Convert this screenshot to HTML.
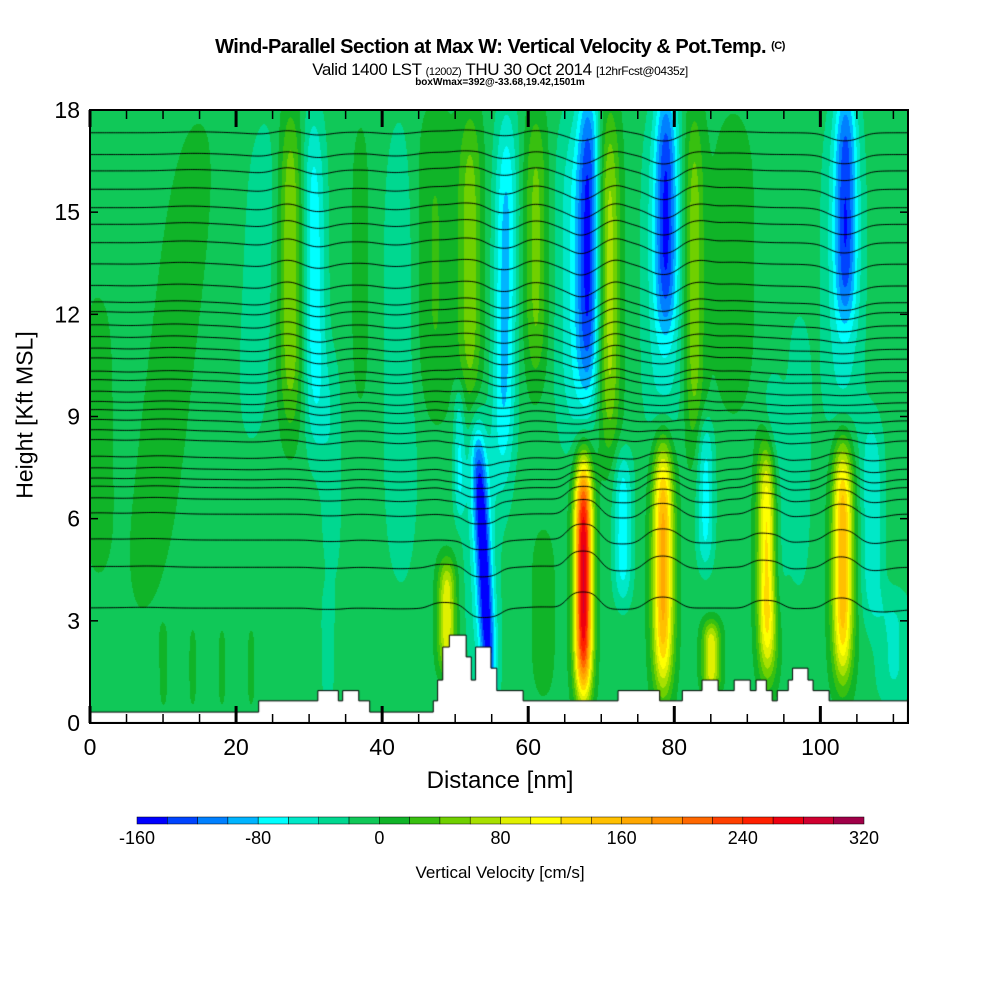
<!DOCTYPE html>
<html><head><meta charset="utf-8">
<style>
html,body{margin:0;padding:0;background:#fff;}
#root{position:relative;width:1000px;height:1000px;overflow:hidden;font-family:"Liberation Sans",sans-serif;color:#000;}
.t{position:absolute;white-space:nowrap;}
</style></head>
<body>
<div id="root">
<div class="t" style="left:0;width:1000px;top:36px;text-align:center;font-weight:bold;font-size:20px;letter-spacing:-0.5px;">Wind-Parallel Section at Max W: Vertical Velocity &amp; Pot.Temp. <span style="font-size:11px;vertical-align:4px">(C)</span></div>
<div class="t" style="left:0;width:1000px;top:60px;text-align:center;font-size:17px;letter-spacing:-0.4px;">Valid 1400 LST <span style="font-size:11px">(1200Z)</span> THU 30 Oct 2014 <span style="font-size:12px">[12hrFcst@0435z]</span></div>
<div class="t" style="left:0;width:1000px;top:77px;text-align:center;font-size:10px;font-weight:bold;">boxWmax=392@-33.68,19.42,1501m</div>
<canvas id="cv" width="818" height="613" style="position:absolute;left:90px;top:110px;"></canvas>
<svg id="ax" width="1000" height="1000" style="position:absolute;left:0;top:0;"></svg>
<div class="t" style="left:25px;top:415px;font-size:23px;transform:translate(-50%,-50%) rotate(-90deg);">Height [Kft MSL]</div>
<div class="t" style="left:0;width:1000px;top:767px;text-align:center;font-size:24px;">Distance [nm]</div>
<div class="t" style="left:0;width:1000px;top:863px;text-align:center;font-size:17px;">Vertical Velocity [cm/s]</div>
</div>
<script>
// ---- data ----
var xTicks=[0,20,40,60,80,100];
var yTicks=[0,3,6,9,12,15,18];
var cbTicks=[-160,-80,0,80,160,240,320];
var levelColors=["#0000ff","#0044ff","#0080ff","#00b4ff","#00ffff","#00e8c8","#00d890","#10c858","#10b428","#38c010","#70d000","#a8e000","#e0f000","#ffff00","#ffd800","#ffc000","#ffa800","#ff9000","#ff6800","#ff4000","#ff2000","#ee0010","#d00030","#a00048"];
var baseW=-8;
// features: bottom x (nm), top x (nm), half-width (nm), bottom z, top z (kft), value (cm/s)
var featXb=[7,1,10,14,18,22,22,27.4,30.8,33,37,42.5,47,52,50.5,54.8,54,48.8,32.5,56.5,61,62,68.2,66.5,71,67.5,72.9,78.8,78.5,82.6,78.4,84.2,85,93.5,92.7,103.4,103,103,107,88,97,110];
var featXt=[15,1,10,14,18,22,24,27.4,30.5,33,37,42.5,47,52,50.5,53.0,53,48.8,32.5,57,61,62,68.2,66.5,71,67.5,72.9,78.8,78.5,82.6,78.4,84.2,85,93.5,92.7,103.4,103,103,107,88,97,110];
var featW=[3.5,2.5,0.7,0.7,0.7,0.7,2.5,1.6,1.6,1.5,1.5,2.5,3,1.6,0.8,1.0,2.2,1.2,1,1.6,1.6,2,1.5,2.8,1.5,1.2,1.3,1.5,2.8,1.4,1.4,1.2,1.2,1.5,1.3,1.5,2.8,1.4,1.6,3,1.6,2.5];
var featZb=[3,4,0.3,0.3,0.3,0.3,8,8.7,8,4,9,4,9,9,6,0.5,1,1.5,0.5,7,10,0.5,9.7,8,8,0.8,3.5,11.6,8,8,1.0,4.5,0.9,3,1.5,11.8,8,1.3,3,9,4,0.5];
var featZt=[18,13,3,3,3,3,18,18,18,11,18,18,18,18,10,8.5,9,4.8,4,18,18,6,19,18,18,7.7,8,19,18,18,8.3,9,3.0,10,8.3,19,18,8.3,9,18,12,4];
var featV=[18,15,12,12,12,12,-25,70,-65,-25,15,-30,30,60,-50,-120,-45,105,-25,-80,55,15,-105,-50,80,290,-65,-95,-45,65,175,-60,105,-50,165,-95,-40,165,-50,20,-30,-35];
// terrain: segment right edges (nm) and heights (kft)
var terrX=[23.1,31.2,34.0,34.6,36.8,38.3,47.0,47.6,48.3,49.2,51.5,52.2,52.8,54.9,55.7,59.3,72.3,78.0,81.1,83.8,86.0,88.2,90.4,91.2,92.6,93.4,94.1,95.6,96.2,98.3,99.0,101.2,112];
var terrH=[0.32,0.65,0.95,0.65,0.95,0.65,0.32,0.65,1.26,2.23,2.58,1.94,1.26,2.23,1.61,0.95,0.65,0.95,0.65,0.95,1.26,0.95,1.26,0.95,1.26,0.95,0.65,0.95,1.26,1.61,1.26,0.95,0.65];
// isentrope base heights (kft)
var thetaZ=[17.36,16.72,16.24,15.7,15.16,14.67,14.13,13.5,12.86,12.37,12.08,11.69,11.34,11.0,10.71,10.32,10.07,9.73,9.43,9.19,8.9,8.6,8.31,7.82,7.48,7.18,6.94,6.6,6.16,5.4,4.6,3.4];

// ---- axes functions ----
var X0=90,X1=908,Y0=723,Y1=110,XMAX=112,YMAX=18;
function sx(v){return X0+(X1-X0)*v/XMAX;}
function sy(v){return Y0-(Y0-Y1)*v/YMAX;}
var CB0=137,CB1=864,CBMIN=-160,CBMAX=320;
function cbx(v){return CB0+(CB1-CB0)*(v-CBMIN)/(CBMAX-CBMIN);}

function wAt(x,z){
  var w=baseW;
  for(var i=0;i<featV.length;i++){
    var zb=featZb[i],zt=featZt[i];
    var t=(z-zb)/(zt-zb); if(t<0)t=0; if(t>1)t=1;
    var cx=featXb[i]+(featXt[i]-featXb[i])*t;
    var dx=(x-cx)/featW[i]; if(dx>3||dx<-3)continue;
    var mid=(zb+zt)/2,half=(zt-zb)/2;
    var q=Math.abs(z-mid)/half; q=q*q; q=q*q;
    w+=featV[i]*Math.exp(-dx*dx)*Math.exp(-q);
  }
  return w;
}
function terrAt(x){for(var i=0;i<terrX.length;i++){if(x<=terrX[i])return terrH[i];}return terrH[terrH.length-1];}

var cv=document.getElementById('cv'),ctx=cv.getContext('2d');
var W=cv.width,H=cv.height;
var img=ctx.createImageData(W,H);
var rgb=levelColors.map(function(c){return [parseInt(c.substr(1,2),16),parseInt(c.substr(3,2),16),parseInt(c.substr(5,2),16)];});
for(var py=0;py<H;py++){
  var z=(Y0-(Y1+py))*YMAX/(Y0-Y1);
  for(var px=0;px<W;px++){
    var x=px*XMAX/(X1-X0);
    var w=wAt(x,z);
    var k=Math.floor((w-CBMIN)/20); if(k<0)k=0; if(k>23)k=23;
    var o=(py*W+px)*4;
    img.data[o]=rgb[k][0];img.data[o+1]=rgb[k][1];img.data[o+2]=rgb[k][2];img.data[o+3]=255;
  }
}
ctx.putImageData(img,0,0);
// isentropes (smoothed displacement)
ctx.strokeStyle='#000';ctx.lineWidth=1;
thetaZ.forEach(function(z0){
  ctx.beginPath();
  for(var x=0;x<=XMAX;x+=0.25){
    var s=0,n=0;
    for(var d=-2;d<=2;d+=0.5){s+=wAt(x+d,z0);n++;}
    var z=z0+0.0035*(s/n);
    var tz=terrAt(x); if(z<tz+0.4)z=tz+0.4;
    var px=sx(x)-X0,py=sy(z)-Y1;
    if(x===0)ctx.moveTo(px,py);else ctx.lineTo(px,py);
  }
  ctx.stroke();
});
// terrain
ctx.fillStyle='#fff';
ctx.beginPath();ctx.moveTo(0,H);
var prev=0;
for(var i=0;i<terrX.length;i++){
  var yy=sy(terrH[i])-Y1;
  ctx.lineTo(sx(prev)-X0,yy);ctx.lineTo(sx(terrX[i])-X0,yy);prev=terrX[i];
}
ctx.lineTo(W,H);ctx.closePath();ctx.fill();
ctx.strokeStyle='#000';ctx.stroke();

// ---- SVG axes ----
var NS='http://www.w3.org/2000/svg',svg=document.getElementById('ax');
function el(t,a){var e=document.createElementNS(NS,t);for(var k in a)e.setAttribute(k,a[k]);svg.appendChild(e);return e;}
var fr=el('rect',{x:X0,y:Y1,width:X1-X0,height:Y0-Y1,fill:'none',stroke:'#000','stroke-width':2});


for(var v=0;v<=XMAX;v+=5){
  var big=(v%20===0),L=big?17:9;
  var t1=el('line',{x1:sx(v),x2:sx(v),y1:Y0,y2:Y0-L,stroke:'#000','stroke-width':big?3:1.5});
  
  
  var t2=el('line',{x1:sx(v),x2:sx(v),y1:Y1,y2:Y1+L,stroke:'#000','stroke-width':big?3:1.5});
  
  
}
xTicks.forEach(function(v){
  var t=el('text',{x:sx(v),y:755,'text-anchor':'middle','font-size':23,'font-family':'Liberation Sans, sans-serif'});
  t.textContent=v;
  
  
});
yTicks.forEach(function(v){
  var t=el('text',{x:80,y:sy(v)+8,'text-anchor':'end','font-size':23,'font-family':'Liberation Sans, sans-serif'});
  t.textContent=v;
  
  
  var l=el('line',{x1:X0,x2:X0+8,y1:sy(v),y2:sy(v),stroke:'#000','stroke-width':1.5});
  
  
  var r=el('line',{x1:X1,x2:X1-8,y1:sy(v),y2:sy(v),stroke:'#000','stroke-width':1.5});
  
  
});
// colorbar
for(var i=0;i<levelColors.length;i++){
  var lo=CBMIN+i*20;
  var r=el('rect',{x:cbx(lo),y:817,width:cbx(lo+20)-cbx(lo),height:7,fill:levelColors[i],stroke:'#000','stroke-width':0.5});
  
  
}
cbTicks.forEach(function(v){
  var t=el('text',{x:cbx(v),y:844,'text-anchor':'middle','font-size':18,'font-family':'Liberation Sans, sans-serif'});
  t.textContent=v;
  
  
});
</script>
</body></html>
